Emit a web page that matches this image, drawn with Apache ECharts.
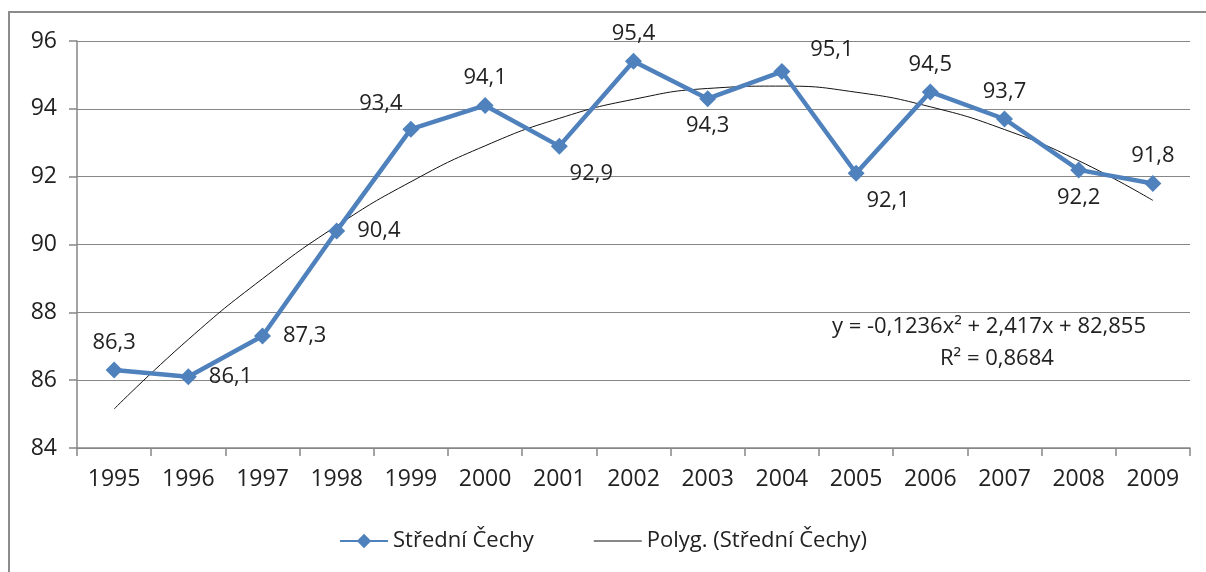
<!DOCTYPE html>
<html>
<head>
<meta charset="utf-8">
<script src="https://cdn.jsdelivr.net/npm/echarts@6/dist/echarts.min.js"></script>
<style>
  html, body { margin: 0; padding: 0; background: #fff; }
  #frame { position: absolute; left: 8px; top: 11px; width: 1300px; height: 700px;
           border-left: 2px solid #8c8c8c; border-top: 2px solid #8c8c8c; }
  #main { position: absolute; left: 0; top: 0; width: 1206px; height: 572px; }
</style>
</head>
<body>
<div id="frame"></div>
<div id="main"></div>
<script>
// data
const years = ['1995', '1996', '1997', '1998', '1999', '2000', '2001', '2002',
  '2003', '2004', '2005', '2006', '2007', '2008', '2009']
const values = [86.3, 86.1, 87.3, 90.4, 93.4, 94.1, 92.9, 95.4, 94.3, 95.1, 92.1, 94.5, 93.7, 92.2, 91.8]
// polynomial trend line, as drawn
const trend = [85.15, 87.2, 88.99, 90.55, 91.85, 92.91, 93.72, 94.28, 94.6, 94.67, 94.49, 94.06, 93.39, 92.47, 91.3]
const seriesName = 'Střední Čechy'
const trendName = 'Polyg. (Střední Čechy)'

// where Excel put each data label
const labelPlace = ['top', 'right', 'right', 'right', 'topLeft', 'top', 'bottomRight', 'top',
  'bottom', 'topRight', 'bottomRight', 'top', 'top', 'bottom', 'top']

const font = '"Open Sans", "DejaVu Sans", sans-serif'
const gray = '#878787'

function labelFor(p) {
  switch (p) {
    case 'topLeft': return { position: 'top', offset: [-30, 2] }
    case 'topRight': return { position: 'top', offset: [50, 6] }
    case 'bottomRight': return { position: 'bottom', offset: [32, 0] }
    case 'right': return { position: 'right', distance: 12 }
    default: return { position: p }
  }
}

const chart = echarts.init(document.getElementById('main'))
chart.setOption({
  backgroundColor: 'transparent',
  animation: false,
  grid: { left: 77, right: 16, top: 41, bottom: 124 },
  legend: {
    bottom: 15,
    left: 'center',
    itemGap: 60,
    itemWidth: 48,
    itemHeight: 18,
    textStyle: { fontFamily: font, fontSize: 22, color: '#222' },
    data: [seriesName, { name: trendName, icon: 'path://M0,0 L48,0 L48,1.2 L0,1.2 Z', itemStyle: { color: '#111' } }]
  },
  xAxis: {
    type: 'category',
    data: years,
    boundaryGap: true,
    axisLine: { lineStyle: { color: gray, width: 1.5 } },
    axisTick: { show: true, alignWithLabel: false, length: 8, lineStyle: { color: gray, width: 1.5 } },
    axisLabel: { fontFamily: font, fontSize: 23, color: '#222', margin: 20 }
  },
  yAxis: {
    type: 'value',
    min: 84,
    max: 96,
    interval: 2,
    axisLine: { show: true, lineStyle: { color: gray, width: 1.5 } },
    axisTick: { show: true, length: 8, lineStyle: { color: gray, width: 1.5 } },
    splitLine: { lineStyle: { color: gray, width: 1.2 } },
    axisLabel: { fontFamily: font, fontSize: 23, color: '#222', margin: 20 }
  },
  series: [
    {
      name: seriesName,
      type: 'line',
      data: values.map((v, i) => ({
        value: v,
        label: labelFor(labelPlace[i])
      })),
      symbol: 'diamond',
      symbolSize: 17,
      lineStyle: { color: '#4f81bd', width: 4.5 },
      itemStyle: { color: '#4f81bd' },
      label: {
        show: true,
        distance: 8,
        fontFamily: font,
        fontSize: 22,
        color: '#222',
        formatter: p => String(p.value).replace('.', ',')
      },
      z: 3
    },
    {
      name: trendName,
      type: 'line',
      data: trend,
      smooth: 0.5,
      showSymbol: false,
      symbol: 'none',
      lineStyle: { color: '#111', width: 1 },
      itemStyle: { color: '#111' },
      z: 2
    }
  ],
  graphic: [
    {
      type: 'text',
      left: 832,
      top: 316,
      style: {
        text: 'y = -0,1236x² + 2,417x + 82,855',
        fontFamily: font, fontSize: 22, fill: '#222'
      }
    },
    {
      type: 'text',
      left: 940,
      top: 348,
      style: {
        text: 'R² = 0,8684',
        fontFamily: font, fontSize: 22, fill: '#222'
      }
    }
  ]
})
</script>
</body>
</html>
